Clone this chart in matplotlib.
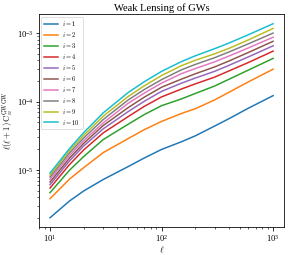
import matplotlib
matplotlib.use("Agg")
import matplotlib.pyplot as plt

plt.rcParams['font.family'] = ['Liberation Serif', 'DejaVu Serif']
plt.rcParams['mathtext.fontset'] = 'cm'

ell = [10, 15, 20, 30, 50, 70, 100, 150, 200, 300, 400, 600, 1000]

cl_i1 = [2.01e-6, 3.55e-6, 4.94e-6, 7.28e-6, 1.12e-5, 1.50e-5, 2.00e-5, 2.58e-5, 3.15e-5, 4.40e-5, 5.60e-5, 8.00e-5, 1.22e-4]
cl_i2 = [3.82e-6, 7.41e-6, 1.08e-5, 1.80e-5, 2.87e-5, 3.89e-5, 5.13e-5, 6.68e-5, 7.85e-5, 1.06e-4, 1.36e-4, 1.94e-4, 2.97e-4]
cl_i3 = [4.67e-6, 1.00e-5, 1.57e-5, 2.79e-5, 4.65e-5, 6.46e-5, 8.71e-5, 1.09e-4, 1.31e-4, 1.69e-4, 2.11e-4, 2.88e-4, 4.27e-4]
cl_i4 = [5.46e-6, 1.21e-5, 1.96e-5, 3.49e-5, 6.01e-5, 8.51e-5, 1.17e-4, 1.52e-4, 1.81e-4, 2.28e-4, 2.79e-4, 3.72e-4, 5.45e-4]
cl_i5 = [6.11e-6, 1.37e-5, 2.24e-5, 4.00e-5, 7.11e-5, 1.01e-4, 1.41e-4, 1.85e-4, 2.20e-4, 2.77e-4, 3.37e-4, 4.49e-4, 6.52e-4]
cl_i6 = [6.68e-6, 1.50e-5, 2.45e-5, 4.47e-5, 8.13e-5, 1.16e-4, 1.62e-4, 2.12e-4, 2.54e-4, 3.21e-4, 3.90e-4, 5.21e-4, 7.59e-4]
cl_i7 = [7.31e-6, 1.64e-5, 2.68e-5, 4.89e-5, 9.40e-5, 1.33e-4, 1.86e-4, 2.55e-4, 3.03e-4, 3.81e-4, 4.61e-4, 6.07e-4, 8.71e-4]
cl_i8 = [7.91e-6, 1.79e-5, 2.93e-5, 5.47e-5, 1.05e-4, 1.50e-4, 2.09e-4, 2.90e-4, 3.48e-4, 4.38e-4, 5.28e-4, 6.97e-4, 1.00e-3]
cl_i9 = [8.45e-6, 1.93e-5, 3.21e-5, 6.12e-5, 1.18e-4, 1.70e-4, 2.40e-4, 3.33e-4, 4.00e-4, 4.99e-4, 5.96e-4, 7.94e-4, 1.17e-3]
cl_i10 = [9.04e-6, 2.07e-5, 3.51e-5, 6.84e-5, 1.35e-4, 1.95e-4, 2.76e-4, 3.82e-4, 4.65e-4, 5.93e-4, 7.13e-4, 9.46e-4, 1.37e-3]

series = [cl_i1, cl_i2, cl_i3, cl_i4, cl_i5, cl_i6, cl_i7, cl_i8, cl_i9, cl_i10]
labels = [r'$i=%d$' % k for k in range(1, 11)]

fig = plt.figure(figsize=(4.0, 255 / 72), dpi=72)
ax = fig.add_axes([0.135, 0.108, 0.852, 0.837])

for y, lab in zip(series, labels):
    ax.plot(ell, y, lw=1.5, label=lab)

ax.set_xscale('log')
ax.set_yscale('log')
ax.set_title('Weak Lensing of GWs', fontsize=10.5, pad=3)
ax.set_xlabel(r'$\ell$', fontsize=9, labelpad=1)
ax.set_ylabel(r'$\ell(\ell+1)\,\mathrm{C}_{ii}^{\mathrm{GWGW}}$', fontsize=8.5, labelpad=1)
ax.tick_params(axis='both', which='major', labelsize=8.5, length=3.5, width=0.8, pad=2)
ax.tick_params(axis='both', which='minor', length=2, width=0.6)

leg = ax.legend(loc='upper left', fontsize=6.5, handlelength=2.2, labelspacing=0.3,
                borderpad=0.4, handletextpad=0.6, framealpha=1.0, edgecolor='#cccccc',
                borderaxespad=0.4)
leg.get_frame().set_linewidth(0.6)

fig.savefig('out.png', dpi=72)
